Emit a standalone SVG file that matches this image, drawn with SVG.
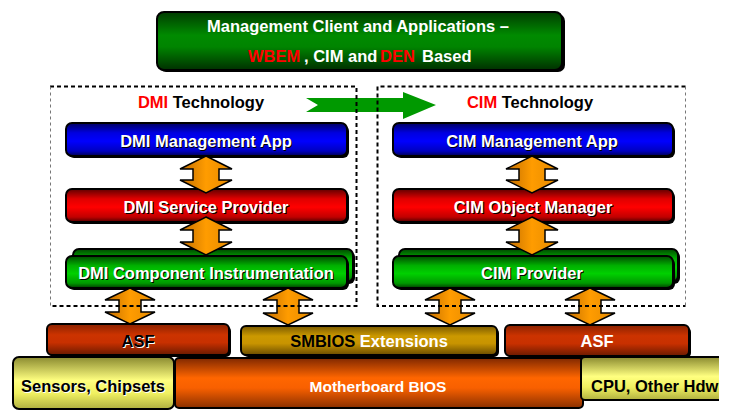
<svg xmlns="http://www.w3.org/2000/svg" width="729" height="410" viewBox="0 0 729 410">
<defs>
<linearGradient id="gTop" x1="0" y1="0" x2="0" y2="1"><stop offset="0" stop-color="#003c00"/><stop offset="0.4" stop-color="#008a00"/><stop offset="0.6" stop-color="#008400"/><stop offset="1" stop-color="#003000"/></linearGradient>
<linearGradient id="gBlue" x1="0" y1="0" x2="0" y2="1"><stop offset="0" stop-color="#000060"/><stop offset="0.3" stop-color="#0000e0"/><stop offset="0.55" stop-color="#0000ff"/><stop offset="0.85" stop-color="#0000c0"/><stop offset="1" stop-color="#000050"/></linearGradient>
<linearGradient id="gRed" x1="0" y1="0" x2="0" y2="1"><stop offset="0" stop-color="#600000"/><stop offset="0.3" stop-color="#e00000"/><stop offset="0.55" stop-color="#ff0000"/><stop offset="0.85" stop-color="#c00000"/><stop offset="1" stop-color="#500000"/></linearGradient>
<linearGradient id="gGreen" x1="0" y1="0" x2="0" y2="1"><stop offset="0" stop-color="#004800"/><stop offset="0.3" stop-color="#00b000"/><stop offset="0.55" stop-color="#00d000"/><stop offset="0.85" stop-color="#009800"/><stop offset="1" stop-color="#003c00"/></linearGradient>
<linearGradient id="gArrow" x1="0" y1="0" x2="1" y2="0"><stop offset="0" stop-color="#c06c00"/><stop offset="0.5" stop-color="#ff9c00"/><stop offset="1" stop-color="#e68a00"/></linearGradient>
<linearGradient id="gAsf" x1="0" y1="0" x2="0" y2="1"><stop offset="0" stop-color="#8a2200"/><stop offset="0.35" stop-color="#cc3300"/><stop offset="0.6" stop-color="#c83000"/><stop offset="1" stop-color="#6a1a00"/></linearGradient>
<linearGradient id="gSmb" x1="0" y1="0" x2="0" y2="1"><stop offset="0" stop-color="#7a5a00"/><stop offset="0.35" stop-color="#cc9900"/><stop offset="0.6" stop-color="#c89400"/><stop offset="1" stop-color="#6a4c00"/></linearGradient>
<linearGradient id="gYel" x1="0" y1="0" x2="0" y2="1"><stop offset="0" stop-color="#8a8a30"/><stop offset="0.45" stop-color="#ffff80"/><stop offset="0.7" stop-color="#f0f060"/><stop offset="1" stop-color="#b0b040"/></linearGradient>
<linearGradient id="gMb" x1="0" y1="0" x2="0" y2="1"><stop offset="0" stop-color="#802800"/><stop offset="0.4" stop-color="#ff6600"/><stop offset="0.6" stop-color="#f86000"/><stop offset="1" stop-color="#8a3000"/></linearGradient>
<clipPath id="clipR"><rect x="0" y="0" width="719" height="410"/></clipPath>
<style>
.box{stroke:#000;stroke-width:2}
.shd{fill:#000}
.arr{fill:url(#gArrow);stroke:#000;stroke-width:1.5;stroke-linejoin:miter}
.t{font-family:"Liberation Sans",Arial,sans-serif;font-weight:bold;font-size:16.5px;text-anchor:middle}
.w{fill:#fff}
.k{fill:#000}
.r{fill:#ff0000}
.dash{fill:none;stroke:#000;stroke-width:2;stroke-dasharray:4 3}
.dashg{fill:none;stroke:#777;stroke-width:1;stroke-dasharray:3 3}
</style>
</defs>

<g id="top">
<rect class="shd" x="159" y="14" width="406" height="58" rx="7"/>
<rect class="box" x="157" y="12" width="405" height="58" rx="7" fill="url(#gTop)"/>
<text class="t w" x="358" y="32">Management Client and Applications –</text>
<text class="t r" x="248" y="62" style="text-anchor:start">WBEM</text>
<text class="t w" x="304" y="62" style="text-anchor:start">, CIM and</text>
<text class="t r" x="380" y="62" style="text-anchor:start">DEN</text>
<text class="t w" x="422" y="62" style="text-anchor:start">Based</text>
</g>

<g id="green-arrow">
<polygon points="306,98 403,98 403,92 436,105 403,119 403,112 306,112 318,105" fill="#009900"/>
</g>

<g id="dmi-title"><text class="t" x="201" y="108"><tspan class="r">DMI</tspan><tspan class="k"> Technology</tspan></text></g>
<g id="cim-title"><text class="t" x="530" y="108"><tspan class="r">CIM</tspan><tspan class="k"> Technology</tspan></text></g>

<g id="dmi-app">
<rect class="shd" x="68" y="125" width="281" height="33" rx="6"/>
<rect class="box" x="66" y="123" width="281" height="33" rx="6" fill="url(#gBlue)"/>
<text class="t k" x="207" y="148">DMI Management App</text>
<text class="t w" x="206" y="147">DMI Management App</text>
</g>
<g id="dmi-sp">
<rect class="shd" x="68" y="191" width="281" height="33" rx="6"/>
<rect class="box" x="66" y="189" width="281" height="33" rx="6" fill="url(#gRed)"/>
<text class="t k" x="207" y="214">DMI Service Provider</text>
<text class="t w" x="206" y="213">DMI Service Provider</text>
</g>
<g id="dmi-ci">
<rect class="shd" x="75" y="251" width="280" height="33" rx="6"/>
<rect class="box" x="73" y="249" width="280" height="33" rx="6" fill="url(#gGreen)"/>
<rect class="shd" x="68" y="258" width="281" height="32" rx="6"/>
<rect class="box" x="66" y="256" width="281" height="32" rx="6" fill="url(#gGreen)"/>
<text class="t k" x="207" y="280">DMI Component Instrumentation</text>
<text class="t w" x="206" y="279">DMI Component Instrumentation</text>
</g>

<g id="cim-app">
<rect class="shd" x="395" y="125" width="280" height="33" rx="6"/>
<rect class="box" x="393" y="123" width="280" height="33" rx="6" fill="url(#gBlue)"/>
<text class="t k" x="533" y="148">CIM Management App</text>
<text class="t w" x="532" y="147">CIM Management App</text>
</g>
<g id="cim-om">
<rect class="shd" x="395" y="191" width="280" height="33" rx="6"/>
<rect class="box" x="393" y="189" width="280" height="33" rx="6" fill="url(#gRed)"/>
<text class="t k" x="534" y="214">CIM Object Manager</text>
<text class="t w" x="533" y="213">CIM Object Manager</text>
</g>
<g id="cim-prov">
<rect class="shd" x="401" y="251" width="279" height="33" rx="6"/>
<rect class="box" x="399" y="249" width="279" height="33" rx="6" fill="url(#gGreen)"/>
<rect class="shd" x="395" y="258" width="280" height="32" rx="6"/>
<rect class="box" x="393" y="256" width="280" height="32" rx="6" fill="url(#gGreen)"/>
<text class="t k" x="533" y="280">CIM Provider</text>
<text class="t w" x="532" y="279">CIM Provider</text>
</g>

<g id="asf-left">
<rect class="shd" x="49" y="326" width="182" height="31" rx="5"/>
<rect class="box" x="47" y="324" width="182" height="31" rx="5" fill="url(#gAsf)"/>
<text class="t w" x="139" y="348">ASF</text>
<text class="t k" x="138" y="347">ASF</text>
</g>
<g id="smbios">
<rect class="shd" x="243" y="328" width="256" height="29" rx="5"/>
<rect class="box" x="241" y="326" width="256" height="29" rx="5" fill="url(#gSmb)"/>
<text class="t" x="369" y="347"><tspan class="k">SMBIOS </tspan><tspan class="w">Extensions</tspan></text>
</g>
<g id="asf-right">
<rect class="shd" x="507" y="327" width="184" height="31" rx="5"/>
<rect class="box" x="505" y="325" width="184" height="31" rx="5" fill="url(#gAsf)"/>
<text class="t w" x="597" y="347">ASF</text>
</g>

<g id="sensors">
<rect class="box" x="13" y="357" width="161" height="52" rx="6" fill="url(#gYel)"/>
<text class="t w" x="94" y="393">Sensors, Chipsets</text>
<text class="t k" x="93" y="392">Sensors, Chipsets</text>
</g>
<g id="motherboard">
<rect class="box" x="175" y="358" width="408" height="50" rx="4" fill="url(#gMb)"/>
<text class="t w" x="378" y="392" style="font-size:15.5px">Motherboard BIOS</text>
</g>
<g id="cpu" clip-path="url(#clipR)">
<rect class="box" x="581" y="357" width="160" height="43" rx="4" fill="url(#gYel)"/>
<text class="t k" x="591" y="392" style="text-anchor:start">CPU, Other Hdw</text>
</g>

<g id="connectors">
<path class="arr" d="M206,156 L232,169 L219,169 L219,180 L232,180 L206,193 L180,180 L193,180 L193,169 L180,169 Z"/>
<path class="arr" d="M206,217 L232,230 L219,230 L219,242 L232,242 L206,255 L180,242 L193,242 L193,230 L180,230 Z"/>
<path class="arr" d="M532,156 L558,169 L545,169 L545,180 L558,180 L532,193 L506,180 L519,180 L519,169 L506,169 Z"/>
<path class="arr" d="M532,217 L558,230 L545,230 L545,242 L558,242 L532,255 L506,242 L519,242 L519,230 L506,230 Z"/>
<path class="arr" d="M130,288 L155,300 L141,300 L141,312 L155,312 L130,324 L105,312 L119,312 L119,300 L105,300 Z"/>
<path class="arr" d="M288,288 L313,300 L299,300 L299,313 L313,313 L288,325 L263,313 L277,313 L277,300 L263,300 Z"/>
<path class="arr" d="M450,288 L475,300 L461,300 L461,313 L475,313 L450,325 L425,313 L439,313 L439,300 L425,300 Z"/>
<path class="arr" d="M590,288 L615,300 L601,300 L601,313 L615,313 L590,325 L565,313 L579,313 L579,300 L565,300 Z"/>
</g>

<g id="frames">
<path class="dash" d="M50,86.5 H356.5 V306 H50"/>
<path class="dashg" d="M50.5,86.5 V306"/>
<path class="dash" d="M685.5,86.5 H377.5 V306 H685.5"/>
<path class="dashg" d="M685.5,86.5 V306"/>
</g>
</svg>
